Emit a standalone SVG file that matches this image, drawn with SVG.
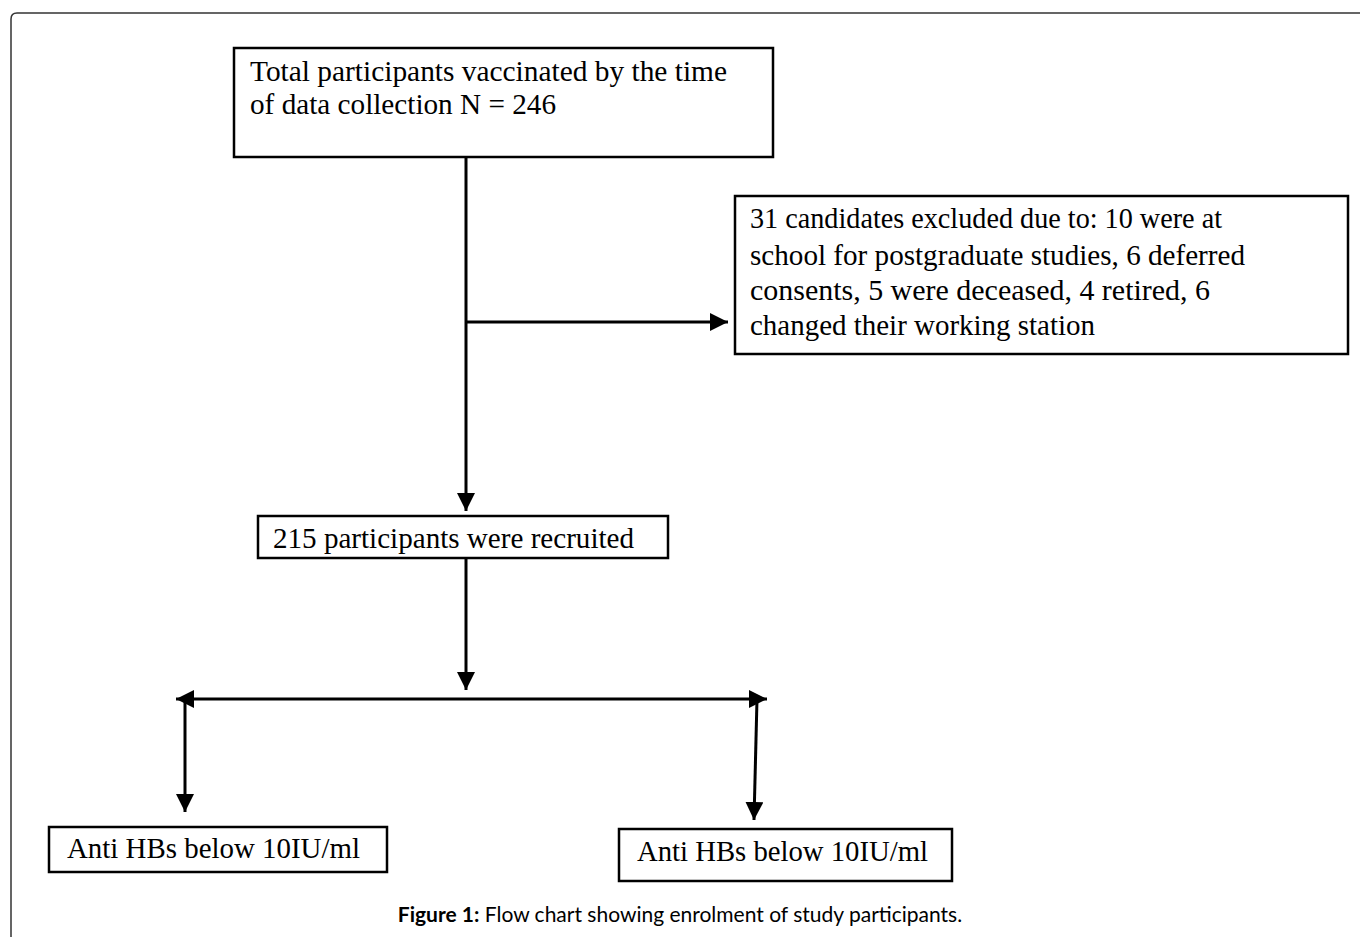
<svg xmlns="http://www.w3.org/2000/svg" width="1360" height="937" viewBox="0 0 1360 937">
<defs>
<style>
.box{fill:#fff;stroke:#000;stroke-width:2.5}
.t{font-family:"Liberation Serif","Times New Roman",serif;font-size:30px;fill:#000}
.ln{stroke:#000;stroke-width:3;fill:none}
.cap{font-family:Lato,"Liberation Sans",sans-serif;font-size:21px;fill:#000}
</style>
<marker id="ah" viewBox="0 0 10 10" refX="10" refY="5" markerWidth="6" markerHeight="6" markerUnits="strokeWidth" orient="auto">
<path d="M0,0 L10,5 L0,10 Z" fill="#000"/>
</marker>
<marker id="ahs" viewBox="0 0 10 10" refX="0" refY="5" markerWidth="6" markerHeight="6" markerUnits="strokeWidth" orient="auto">
<path d="M10,0 L0,5 L10,10 Z" fill="#000"/>
</marker>
</defs>
<rect width="1360" height="937" fill="#fff"/>
<path d="M11,945 L11,19 Q11,13 17,13 L1370,13" fill="none" stroke="#333" stroke-width="1.5"/>
<g id="connectors">
<line class="ln" x1="466" y1="157" x2="466" y2="511" marker-end="url(#ah)"/>
<line class="ln" x1="466" y1="322" x2="728" y2="322" marker-end="url(#ah)"/>
<line class="ln" x1="466" y1="558" x2="466" y2="690" marker-end="url(#ah)"/>
<line class="ln" x1="176" y1="699" x2="767" y2="699" marker-start="url(#ahs)" marker-end="url(#ah)"/>
<line class="ln" x1="185" y1="699" x2="185" y2="812" marker-end="url(#ah)"/>
<line class="ln" x1="757" y1="699" x2="754" y2="820" marker-end="url(#ah)"/>
</g>
<g id="node-total">
<rect class="box" x="234" y="48" width="539" height="109"/>
<text class="t" x="250" y="81" textLength="477" lengthAdjust="spacingAndGlyphs">Total participants vaccinated by the time</text>
<text class="t" x="250" y="114" textLength="306" lengthAdjust="spacingAndGlyphs">of data collection N = 246</text>
</g>
<g id="node-excluded">
<rect class="box" x="735" y="196" width="613" height="158"/>
<text class="t" x="750" y="228" textLength="472" lengthAdjust="spacingAndGlyphs">31 candidates excluded due to: 10 were at</text>
<text class="t" x="750" y="265" textLength="495" lengthAdjust="spacingAndGlyphs">school for postgraduate studies, 6 deferred</text>
<text class="t" x="750" y="300" textLength="460" lengthAdjust="spacingAndGlyphs">consents, 5 were deceased, 4 retired, 6</text>
<text class="t" x="750" y="335" textLength="345" lengthAdjust="spacingAndGlyphs">changed their working station</text>
</g>
<g id="node-recruited">
<rect class="box" x="258" y="516" width="410" height="42"/>
<text class="t" x="273" y="548" textLength="361" lengthAdjust="spacingAndGlyphs">215 participants were recruited</text>
</g>
<g id="node-left">
<rect class="box" x="49" y="827" width="338" height="45"/>
<text class="t" x="67" y="858" textLength="293" lengthAdjust="spacingAndGlyphs">Anti HBs below 10IU/ml</text>
</g>
<g id="node-right">
<rect class="box" x="619" y="829" width="333" height="52"/>
<text class="t" x="637" y="861" textLength="291" lengthAdjust="spacingAndGlyphs">Anti HBs below 10IU/ml</text>
</g>
<text class="cap" x="680" y="922" text-anchor="middle"><tspan font-weight="bold">Figure 1:</tspan> Flow chart showing enrolment of study participants.</text>
</svg>
